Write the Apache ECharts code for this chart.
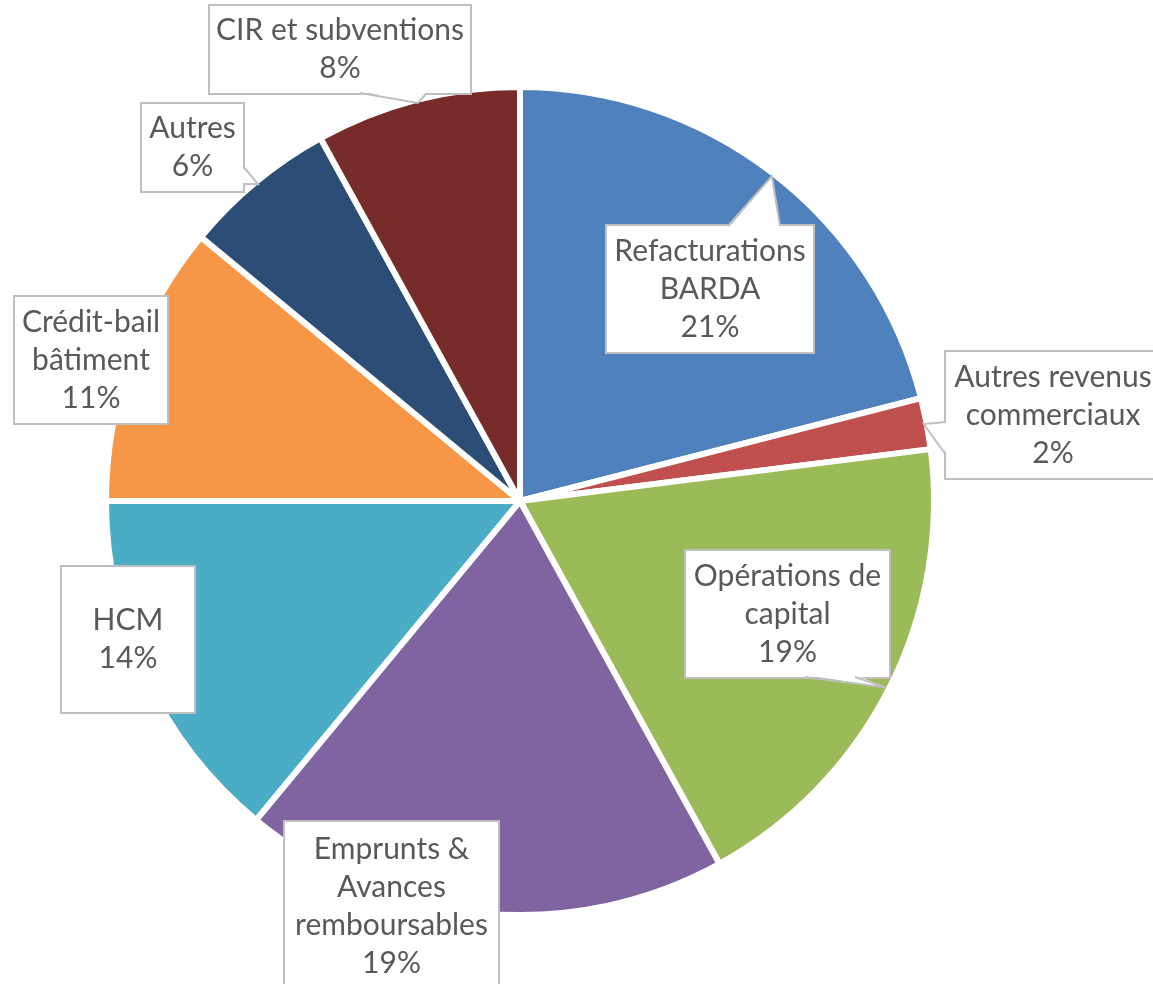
<!DOCTYPE html>
<html>
<head>
<meta charset="utf-8">
<script src="https://cdn.jsdelivr.net/npm/echarts@6/dist/echarts.min.js"></script>
<style>
  html, body { margin: 0; padding: 0; background: #ffffff; }
  #chart { width: 1153px; height: 984px; }
</style>
</head>
<body>
<div id="chart"></div>
<script>
// Funding sources, clockwise from 12 o'clock
const categories = [
  'Refacturations BARDA',
  'Autres revenus commerciaux',
  'Opérations de capital',
  'Emprunts & Avances remboursables',
  'HCM',
  'Crédit-bail bâtiment',
  'Autres',
  'CIR et subventions'
];
// How each category name breaks inside its callout
const labelLines = [
  ['Refacturations', 'BARDA'],
  ['Autres revenus', 'commerciaux'],
  ['Opérations de', 'capital'],
  ['Emprunts &', 'Avances', 'remboursables'],
  ['HCM'],
  ['Crédit-bail', 'bâtiment'],
  ['Autres'],
  ['CIR et subventions']
];
// Share of total, in percent
const shares = [21, 2, 19, 19, 14, 11, 6, 8];

const palette = ['#4F81BD', '#C0504D', '#9BBB59', '#8064A2', '#4BACC6', '#F79646', '#2C4D75', '#772C2A'];

// Callout boxes: centre, outer width/height, and the edge a pointer leaves from
const LINE_H = 38;
const callouts = [
  { cx: 710,   cy: 289,   w: 206, h: 126, ptr: { side: 'top',    a: 728, b: 780 } },
  { cx: 1053,  cy: 415,   w: 214, h: 126, ptr: { side: 'left',   a: 422, b: 455 } },
  { cx: 787.5, cy: 614,   w: 203, h: 126, ptr: { side: 'bottom', a: 805, b: 855 } },
  { cx: 391.5, cy: 906,   w: 213, h: 168, ptr: null },
  { cx: 128,   cy: 639.5, w: 132, h: 145, ptr: null },
  { cx: 91,    cy: 360,   w: 152, h: 126, ptr: null },
  { cx: 192.5, cy: 147.5, w: 101, h: 87,  ptr: { side: 'right',  a: 166, b: 184 } },
  { cx: 340,   cy: 49.5,  w: 260, h: 87,  ptr: { side: 'bottom', a: 360, b: 427 } }
];

const BORDER = '#BFBFBF';
const TEXT = '#595959';

const seriesData = categories.map(function (name, i) {
  const c = callouts[i];
  const nLines = labelLines[i].length + 1;
  const pv = (c.h - nLines * LINE_H) / 2;
  return {
    name: name,
    value: shares[i],
    itemStyle: { color: palette[i] },
    label: { width: c.w, padding: [pv, 0, pv, 0] }
  };
});

const chart = echarts.init(document.getElementById('chart'), null, { renderer: 'canvas' });

const option = {
  animation: false,
  backgroundColor: '#ffffff',
  series: [{
    type: 'pie',
    center: [520, 501],
    radius: 414,
    startAngle: 90,
    clockwise: true,
    avoidLabelOverlap: false,
    emphasis: { disabled: true },
    itemStyle: { borderColor: '#ffffff', borderWidth: 6 },
    labelLine: { show: false },
    label: {
      show: true,
      position: 'inside',
      formatter: function (p) {
        return labelLines[p.dataIndex].join('\n') + '\n' + Math.round(p.percent) + '%';
      },
      color: TEXT,
      fontFamily: 'Lato',
      fontSize: 30,
      lineHeight: LINE_H,
      align: 'center',
      backgroundColor: '#ffffff',
      borderColor: BORDER,
      borderWidth: 2
    },
    labelLayout: function (params) {
      const c = callouts[params.dataIndex];
      return { x: c.cx, y: c.cy, align: 'center', verticalAlign: 'middle' };
    },
    data: seriesData
  }]
};

chart.setOption(option);

// Callout pointers: from the box edge to the slice rim at its mid-angle
const pieData = chart.getModel().getSeriesByIndex(0).getData();
const pointerGraphics = [];
callouts.forEach(function (c, i) {
  if (!c.ptr) return;
  const lay = pieData.getItemLayout(i);
  const mid = (lay.startAngle + lay.endAngle) / 2;
  const rr = lay.r - 3;
  const tip = [lay.cx + rr * Math.cos(mid), lay.cy + rr * Math.sin(mid)];
  const left = c.cx - c.w / 2, right = c.cx + c.w / 2;
  const top = c.cy - c.h / 2, bottom = c.cy + c.h / 2;
  let p1, p2, q1, q2;
  const inset = 2;
  if (c.ptr.side === 'top') {
    p1 = [c.ptr.a, top]; p2 = [c.ptr.b, top];
    q1 = [c.ptr.a, top + inset]; q2 = [c.ptr.b, top + inset];
  } else if (c.ptr.side === 'bottom') {
    p1 = [c.ptr.a, bottom]; p2 = [c.ptr.b, bottom];
    q1 = [c.ptr.a, bottom - inset]; q2 = [c.ptr.b, bottom - inset];
  } else if (c.ptr.side === 'left') {
    p1 = [left, c.ptr.a]; p2 = [left, c.ptr.b];
    q1 = [left + inset, c.ptr.a]; q2 = [left + inset, c.ptr.b];
  } else {
    p1 = [right, c.ptr.a]; p2 = [right, c.ptr.b];
    q1 = [right - inset, c.ptr.a]; q2 = [right - inset, c.ptr.b];
  }
  pointerGraphics.push({
    type: 'polygon', z: 10, silent: true,
    shape: { points: [q1, tip, q2] },
    style: { fill: '#ffffff', stroke: null }
  });
  pointerGraphics.push({
    type: 'polyline', z: 11, silent: true,
    shape: { points: [p1, tip, p2] },
    style: { fill: null, stroke: BORDER, lineWidth: 2 }
  });
});
chart.setOption({ graphic: pointerGraphics });
</script>
</body>
</html>
